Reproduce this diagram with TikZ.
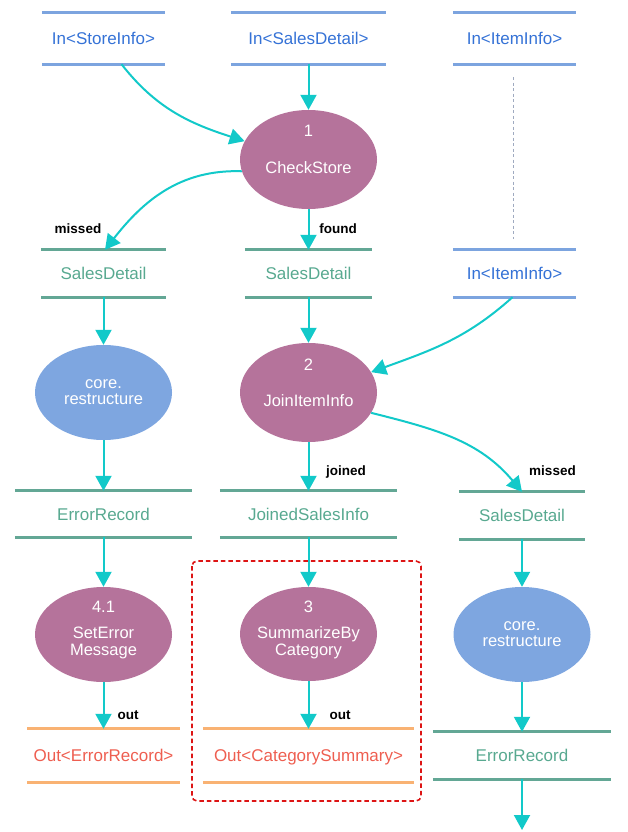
\documentclass[tikz,border=0pt]{standalone}
\usepackage{fontspec}
\setmainfont{Liberation Sans}
\usetikzlibrary{arrows.meta,shapes.geometric}

% palette
\definecolor{storeblue}{HTML}{7CA4DF}
\definecolor{inputtext}{HTML}{3572D6}
\definecolor{storegreen}{HTML}{63A795}
\definecolor{datatext}{HTML}{58A990}
\definecolor{storeorange}{HTML}{F9B273}
\definecolor{outputtext}{HTML}{EE5E50}
\definecolor{procpurple}{HTML}{B5739B}
\definecolor{coreblue}{HTML}{7EA6E0}
\definecolor{flowcyan}{HTML}{12C9C9}
\definecolor{groupred}{HTML}{DD1515}
\definecolor{guidegray}{HTML}{9FAAC0}

\begin{document}
\begin{tikzpicture}[x=1pt,y=1pt,
  % data store: text between a top and a bottom rule
  store/.style n args={4}{inner sep=0pt, minimum width=#1, minimum height=#2,
    text=#4, font=\fontsize{17}{20}\selectfont, text height=12.3pt, text depth=0pt,
    append after command={
      (\tikzlastnode.north west) edge[draw=#3, line width=2.8pt] (\tikzlastnode.north east)
      (\tikzlastnode.south west) edge[draw=#3, line width=2.8pt] (\tikzlastnode.south east)}},
  instore/.style 2 args={store={#1}{#2}{storeblue}{inputtext}},
  datastore/.style 2 args={store={#1}{#2}{storegreen}{datatext}},
  outstore/.style 2 args={store={#1}{#2}{storeorange}{outputtext}},
  bubble/.style={ellipse, inner sep=0pt, minimum width=137pt, minimum height=#1},
  proc/.style={bubble=#1, fill=procpurple},
  coreproc/.style={bubble=#1, fill=coreblue},
  bubbletext/.style={anchor=base, inner sep=0pt, text=white, font=\fontsize{16.5}{19}\selectfont},
  flow/.style={draw=flowcyan, line width=2pt, -{Triangle[width=16pt,length=15pt]}},
  flowlabel/.style={anchor=base, inner sep=0pt, font=\bfseries\fontsize{13.5}{16}\selectfont},
  guide/.style={draw=guidegray, line width=0.8pt, dash pattern=on 3pt off 2.5pt},
  groupbox/.style={draw=groupred, line width=1.6pt, dash pattern=on 4.5pt off 3pt, rounded corners=5pt},
]
\useasboundingbox (0,0) rectangle (628,-832);

% ---- data stores ----
\node[instore={123pt}{51pt}] (inStore) at (103.5,-38.5) {In<StoreInfo>};
\node[instore={155pt}{51pt}] (inSales) at (308.5,-38.5) {In<SalesDetail>};
\node[instore={123pt}{51pt}] (inItem)  at (514.5,-38.5) {In<ItemInfo>};

\node[datastore={125pt}{47pt}] (sdMissed) at (103.5,-273.5) {SalesDetail};
\node[datastore={127pt}{47pt}] (sdFound)  at (308.5,-273.5) {SalesDetail};
\node[instore={123pt}{47pt}]   (inItemB)  at (514.5,-273.5) {In<ItemInfo>};

\node[datastore={177pt}{46pt}] (errA)      at (103.5,-514) {ErrorRecord};
\node[datastore={177pt}{46pt}] (joined)    at (308.5,-514) {JoinedSalesInfo};
\node[datastore={126pt}{47pt}] (sdMissedB) at (522,-515.5) {SalesDetail};

\node[outstore={152pt}{53pt}]  (outErr) at (103.5,-755.5) {Out<ErrorRecord>};
\node[outstore={211pt}{53pt}]  (outCat) at (308.5,-755.5) {Out<CategorySummary>};
\node[datastore={178pt}{47pt}] (errB)   at (522,-755.5)   {ErrorRecord};

\coordinate (sink) at (522,-830);

% ---- processes ----
\node[proc=99pt] (p1) at (308.5,-159.5) {};
\node[bubbletext] (p1num)  at (308.5,-136) {1};
\node[bubbletext] (p1name) at (308.5,-173) {CheckStore};

\node[proc=99pt] (p2) at (308.5,-392.5) {};
\node[bubbletext] (p2num)  at (308.5,-370) {2};
\node[bubbletext] (p2name) at (308.5,-406) {JoinItemInfo};

\node[coreproc=95pt] (coreA) at (103.5,-392.5) {};
\node[bubbletext] (coreAa) at (103.5,-388) {core.};
\node[bubbletext] (coreAb) at (103.5,-404) {restructure};

\node[proc=95pt] (p41) at (103.5,-634.5) {};
\node[bubbletext] (p41num)   at (103.5,-612) {4.1};
\node[bubbletext] (p41nameA) at (103.5,-638) {SetError};
\node[bubbletext] (p41nameB) at (103.5,-655) {Message};

\node[proc=94pt] (p3) at (308.5,-634) {};
\node[bubbletext] (p3num)   at (308.5,-612) {3};
\node[bubbletext] (p3nameA) at (308.5,-638) {SummarizeBy};
\node[bubbletext] (p3nameB) at (308.5,-655) {Category};

\node[coreproc=95pt] (coreB) at (522,-634.5) {};
\node[bubbletext] (coreBa) at (522,-630) {core.};
\node[bubbletext] (coreBb) at (522,-646) {restructure};

% ---- flows ----
\draw[flow] ([xshift=18pt]inStore.south) to[out=-52,in=162] (p1.164);
\draw[flow] (inSales.south) -- (p1.north);
\draw[flow] (p1.190) to[out=178,in=52] ([xshift=1.5pt]sdMissed.north);
\draw[flow] (p1.south) -- (sdFound.north);

\draw[flow] (sdMissed.south) -- (coreA.north);
\draw[flow] (sdFound.south) -- (p2.north);
\draw[flow] ([xshift=-2pt]inItemB.south) to[out=-138,in=20] (p2.18);
\draw[flow] (p2.-18) to[out=-14,in=130] (sdMissedB.north);

\draw[flow] (coreA.south) -- (errA.north);
\draw[flow] (p2.south) -- (joined.north);

\draw[flow] (errA.south) -- (p41.north);
\draw[flow] (joined.south) -- (p3.north);
\draw[flow] (sdMissedB.south) -- (coreB.north);

\draw[flow] (p41.south) -- (outErr.north);
\draw[flow] (p3.south) -- (outCat.north);
\draw[flow] (coreB.south) -- (errB.north);
\draw[flow] (errB.south) -- (sink);

% ---- flow labels ----
\node[flowlabel] (lblMissA)  at (78,-233)   {missed};
\node[flowlabel] (lblFound)  at (338,-233)  {found};
\node[flowlabel] (lblJoined) at (346,-475)  {joined};
\node[flowlabel] (lblMissB)  at (552.5,-475) {missed};
\node[flowlabel] (lblOutA)   at (128,-719)  {out};
\node[flowlabel] (lblOutB)   at (340,-719)  {out};

% ---- repeated ItemInfo input guide ----
\draw[guide, shorten <=13pt, shorten >=11pt] ([xshift=-1.5pt]inItem.south) -- ([xshift=-1.5pt]inItemB.north);

% ---- highlighted group ----
\draw[groupbox] (192,-561) rectangle (421,-801);
\end{tikzpicture}
\end{document}
